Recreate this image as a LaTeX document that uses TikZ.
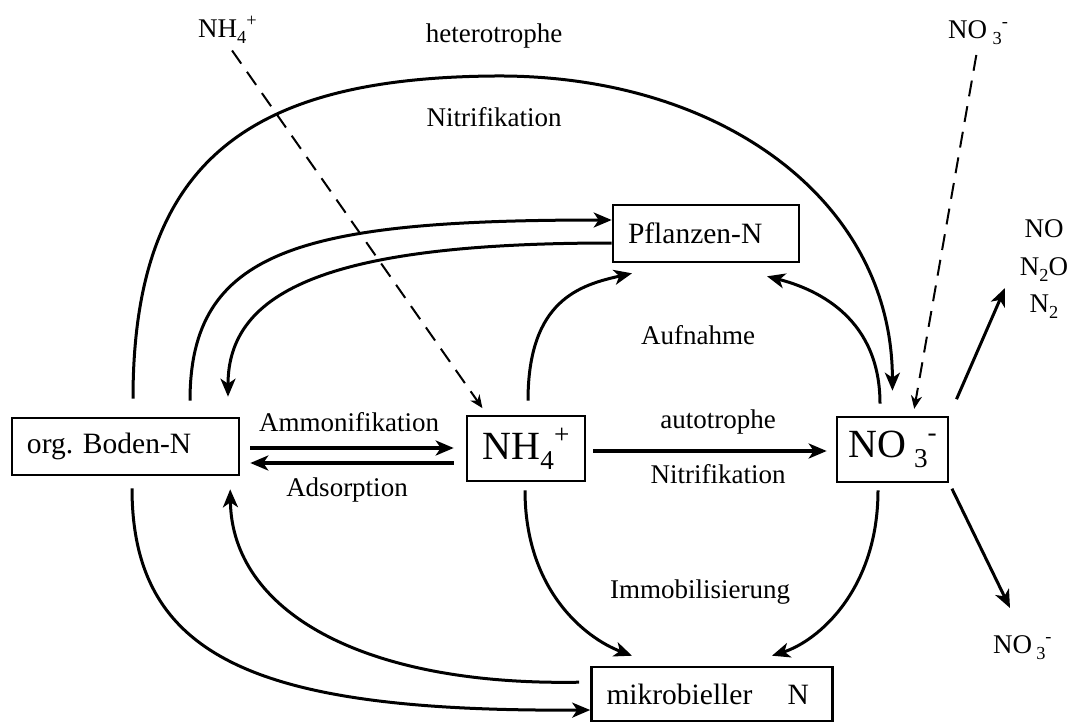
\documentclass[tikz,border=0pt]{standalone}
\usepackage{fontspec}
\usepackage{graphicx}
\setmainfont{Liberation Serif}
\usetikzlibrary{arrows.meta, positioning}

\newcommand{\boxfont}{\fontsize{29.5}{34}\selectfont}
\newcommand{\ionfont}{\fontsize{40}{46}\selectfont}
\newcommand{\labfont}{\fontsize{27}{32}\selectfont}
\newcommand{\ionsub}[1]{\raisebox{-0.25em}{\scalebox{0.68}{#1}}}
\newcommand{\ionsup}[1]{\raisebox{0.4em}{\scalebox{0.68}{#1}}}

\begin{document}
\begin{tikzpicture}[
    x=1pt, y=-1pt,
    >={Stealth[length=18pt, width=15pt, inset=5pt]},
    box/.style={draw, line width=2.6pt, inner sep=0pt, inner xsep=15pt, align=left, font=\boxfont},
    ionbox/.style={draw, line width=2.6pt, inner sep=0pt, font=\ionfont},
    arrow/.style={->, line width=3pt},
    flow/.style={->, line width=4pt},
    darrow/.style={-{Stealth[length=13pt, width=11pt, inset=4pt]}, line width=2pt, dash pattern=on 16pt off 10pt},
    label/.style={font=\labfont, inner sep=0pt},
]
\useasboundingbox (0,0) rectangle (1075,723);

% ===== Pools =====
\node[box, text width=197pt, minimum height=57pt] (boden) at (125.5,446.5) {org.\ Boden-N};
\node[ionbox, minimum width=118pt, minimum height=65pt] (nh4) at (526,448.5)
     {NH\ionsub{4}\ionsup{+}};
\node[ionbox, minimum width=111pt, minimum height=65pt] (no3) at (892.5,449.5)
     {NO\kern0.2em\ionsub{3}\ionsup{-}};
\node[box, text width=156pt, minimum height=57pt] (pflanzen) at (706,233.5) {Pflanzen-N};
\node[box, text width=211pt, minimum height=54pt] (mikro) at (712,694)
     {mikrobieller\hspace{1.2em}N};

% ===== Inputs / outputs =====
\node[label, anchor=base west] (nh4in) at (198,37) {NH\ionsub{4}\ionsup{+}};
\node[label, anchor=base west] (no3in) at (948,38) {NO\kern0.2em\ionsub{3}\ionsup{-}};
\node[label, anchor=base] (gasno) at (1044,237) {NO};
\node[label, anchor=base] (gasnno) at (1044,275) {N\ionsub{2}O};
\node[label, anchor=base] (gasnn) at (1044,312) {N\ionsub{2}};
\node[label, anchor=base west] (no3out) at (993,653) {NO\kern0.15em\ionsub{3}\ionsup{-}};
\coordinate (gasend) at (1005,288);
\coordinate (leachend) at (1010,608);

% ===== Process labels =====
\node[label] (het1) at (494,36) {heterotrophe};
\node[label] (het2) at (494,117) {Nitrifikation};
\node[label] (amm) at (349,422) {Ammonifikation};
\node[label] (ads) at (347,490) {Adsorption};
\node[label] (auto1) at (718,422) {autotrophe};
\node[label] (auto2) at (718,474) {Nitrifikation};
\node[label] (aufn) at (698,335) {Aufnahme};
\node[label] (immo) at (700,592) {Immobilisierung};

% ===== ARROWS =====
% heterotrophe Nitrifikation
\draw[arrow, shorten <=18pt, shorten >=25pt] ([xshift=7.5pt]boden.north)
    .. controls (133,160) and (250,78) .. (494,76)
    .. controls (720,74) and (892,200) .. (no3.north);

% Boden <-> Pflanzen
\draw[arrow, shorten <=16pt] ([xshift=64.5pt]boden.north)
    .. controls (190,250) and (300,220) .. ([yshift=13.5pt]pflanzen.west);
\draw[arrow, shorten >=20pt] ([yshift=-9.5pt]pflanzen.west)
    .. controls (330,243) and (228,290) .. ([xshift=102.5pt]boden.north);

% Aufnahme
\draw[arrow, shorten <=14pt] ([xshift=2pt]nh4.north)
    .. controls (528,300) and (580,285) .. ([xshift=-74pt, yshift=-10pt]pflanzen.south);
\draw[arrow, shorten <=12pt] ([xshift=-12.5pt]no3.north)
    .. controls (880,320) and (820,290) .. ([xshift=61pt, yshift=-13pt]pflanzen.south);

% Immobilisierung
\draw[arrow, shorten <=8pt] ([xshift=-1pt]nh4.south)
    .. controls (525,590) and (585,638) .. ([xshift=-80pt, yshift=10pt]mikro.north);
\draw[arrow, shorten <=7pt] ([xshift=-14.5pt]no3.south)
    .. controls (878,590) and (818,641) .. ([xshift=60pt, yshift=10pt]mikro.north);

% Boden <-> mikrobieller N
\draw[arrow, shorten <=12pt] ([xshift=6.5pt]boden.south)
    .. controls (132,660) and (260,712) .. ([yshift=-16pt]mikro.west);
\draw[arrow, shorten <=11pt, shorten >=13pt] ([yshift=12pt]mikro.west)
    .. controls (360,686) and (232,610) .. ([xshift=104.5pt]boden.south);

% Ammonifikation / Adsorption
\draw[flow, shorten <=10pt, shorten >=12pt] ([yshift=-1.5pt]boden.east) -- ([yshift=0.5pt]nh4.west);
\draw[flow, shorten <=12pt, shorten >=10pt] ([yshift=-14.5pt]nh4.west) -- ([yshift=-16.5pt]boden.east);

% autotrophe Nitrifikation
\draw[flow, shorten <=7pt, shorten >=9pt] ([yshift=-2.5pt]nh4.east) -- ([yshift=-1.5pt]no3.west);

% Eintraege
\draw[darrow, shorten <=8pt, shorten >=8pt] (nh4in.south) -- ([xshift=-39pt]nh4.north);
\draw[darrow, shorten <=10pt, shorten >=7pt] (no3in.south) -- ([xshift=20.5pt]no3.north);

% Verluste
\draw[arrow, shorten <=18pt] (no3.north east) -- (gasend);
\draw[arrow, shorten <=6pt] (no3.south east) -- (leachend);

\end{tikzpicture}
\end{document}
